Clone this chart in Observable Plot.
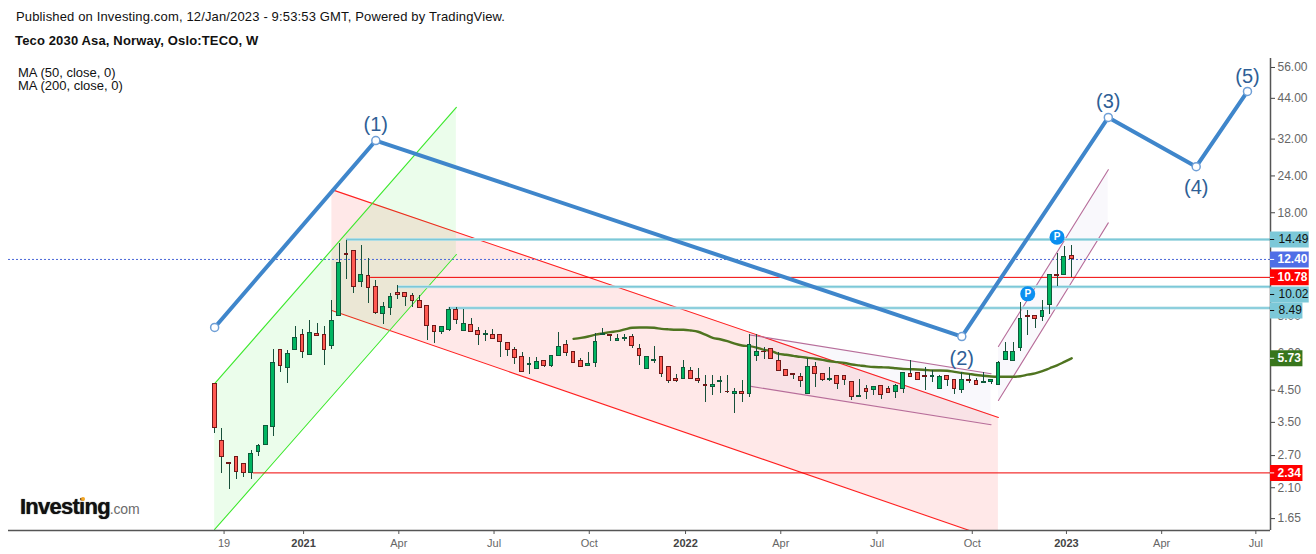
<!DOCTYPE html>
<html>
<head>
<meta charset="utf-8">
<script src="https://cdn.jsdelivr.net/npm/d3@7"></script>
<script src="https://cdn.jsdelivr.net/npm/@observablehq/plot@0.6"></script>
<style>
  html, body { margin: 0; padding: 0; background: #fff; }
  body { width: 1316px; height: 554px; position: relative; overflow: hidden; font-family: "Liberation Sans", Arial, sans-serif; color: #111; }
  #head { height: 58px; position: relative; font-size: 13px; letter-spacing: .15px; }
  #pub { position: absolute; left: 16px; top: 9px; white-space: nowrap; }
  #ttl { position: absolute; left: 15px; top: 33px; white-space: nowrap; font-weight: bold; }
  #ma { position: absolute; left: 18px; top: 66px; font-size: 13px; line-height: 13px; white-space: nowrap; z-index: 2; }
  #logo { position: absolute; left: 20px; top: 493px; white-space: nowrap; z-index: 2; font-weight: bold; color: #111; font-size: 22px; letter-spacing: -.75px; line-height: 28px; text-shadow: 0 0 1px #333; }
  #logo span { font-weight: normal; color: #6b6b6b; font-size: 14px; letter-spacing: -.2px; text-shadow: none; }
  #dot { position: absolute; left: 81px; top: 497px; width: 4px; height: 4px; border-radius: 50%; background: #f5a623; z-index: 3; }
  svg { display: block; }
</style>
</head>
<body>
<div id="head">
  <div id="pub">Published on Investing.com, 12/Jan/2023 - 9:53:53 GMT, Powered by TradingView.</div>
  <div id="ttl">Teco 2030 Asa, Norway, Oslo:TECO, W</div>
</div>
<div id="ma">MA (50, close, 0)<br>MA (200, close, 0)</div>
<div id="logo">Investing<span>.com</span></div>
<div id="dot"></div>
<div id="chart"></div>
<script>
const firstWeek = "2020-10-12";

const open = [4.69,3.01,2.52,2.64,2.51,2.34,2.76,2.92,3.36,6.12,5.32,6.12,6.89,5.89,6.94,6.89,6.30,7.98,12.96,13.27,10.38,10.90,10.02,8.11,8.50,9.55,9.55,9.34,8.98,8.62,7.39,7.05,7.16,8.36,7.10,7.44,
7.10,6.87,6.89,6.89,6.47,6.12,5.79,5.45,5.27,5.61,5.39,5.84,6.37,6.03,5.61,5.39,5.53,6.87,6.89,6.57,6.67,6.78,6.17,5.28,5.61,5.79,5.36,4.88,4.88,5.19,4.88,4.65,4.58,4.76,4.41,4.34,4.40,
4.34,5.84,6.04,6.17,5.62,5.24,5.08,4.96,4.34,5.36,5.08,4.84,5.00,5.00,4.77,4.24,4.51,4.48,4.62,4.51,4.41,4.51,5.08,5.12,5.00,4.96,4.51,5.00,4.84,4.48,4.84,4.81,4.73,4.77,4.66,
5.65,5.62,6.20,7.99,7.99,7.92,8.68,11.00,11.00,12.76];
const high = [4.69,3.31,2.52,2.64,2.51,2.79,2.92,3.38,6.12,6.12,6.07,7.33,7.17,7.68,7.50,7.33,8.98,14.01,14.38,13.27,13.80,12.46,10.49,8.83,9.48,10.09,9.55,9.48,9.34,8.62,7.39,7.33,8.50,8.50,8.36,7.80,
7.27,7.10,7.18,6.89,6.47,6.22,5.98,5.78,5.75,5.61,5.84,6.99,6.57,6.03,5.70,5.98,6.94,7.21,6.89,6.89,6.89,6.89,6.37,5.79,6.27,5.79,5.36,5.03,5.61,5.32,5.28,4.99,4.99,4.95,4.99,4.51,4.80,
6.89,6.89,6.22,6.17,5.98,5.24,5.08,5.08,5.72,5.53,5.08,5.33,5.00,5.00,4.77,4.84,4.62,4.58,4.62,4.58,4.66,5.12,5.62,5.12,5.33,5.20,5.00,5.00,4.84,5.12,5.04,4.88,5.12,4.84,5.57,
6.50,6.50,8.84,8.30,7.99,8.98,11.00,12.96,13.70,13.80];
const low = [3.18,2.32,2.05,2.23,2.25,2.23,2.67,2.89,3.12,5.14,4.71,6.12,5.74,5.84,6.83,5.43,6.16,7.98,10.63,9.50,9.99,8.81,8.05,7.48,8.03,9.05,8.60,8.50,8.50,6.60,6.45,6.92,7.05,7.48,7.10,7.05,
6.35,6.55,6.66,5.78,5.82,5.46,5.15,5.04,5.23,5.35,5.35,5.84,5.82,5.49,5.35,5.39,5.35,6.87,6.55,6.57,6.55,6.20,5.43,5.28,5.49,4.94,4.72,4.76,4.84,4.88,4.72,4.04,4.29,4.36,4.34,3.73,4.07,
4.21,5.57,5.66,5.66,5.20,4.96,4.84,4.55,4.34,4.55,4.77,4.77,4.48,4.62,4.11,4.24,4.14,4.27,4.14,4.37,4.18,4.34,4.96,4.81,4.44,4.73,4.51,4.58,4.31,4.34,4.69,4.66,4.73,4.66,4.66,
5.62,5.62,6.06,6.87,7.25,7.66,8.09,10.06,11.00,10.75];
const close = [3.32,2.65,2.50,2.36,2.34,2.72,2.89,3.38,5.53,5.40,5.93,6.73,6.01,6.99,6.83,6.12,7.68,12.07,12.83,10.02,11.00,9.94,8.18,8.56,9.26,9.41,9.26,8.98,8.50,7.39,7.05,7.33,8.36,7.74,7.50,7.05,
6.87,6.94,6.66,6.52,6.11,5.75,5.15,5.49,5.57,5.39,5.84,6.27,5.98,5.52,5.36,5.49,6.52,6.94,6.81,6.67,6.72,6.32,5.84,5.79,5.66,5.07,4.80,4.80,5.32,4.88,4.80,4.60,4.65,4.80,4.39,4.40,4.34,
6.37,6.03,6.01,5.71,5.20,5.00,5.04,4.81,5.36,5.08,4.84,4.88,4.69,4.84,4.24,4.27,4.41,4.58,4.31,4.37,4.62,5.12,4.96,4.84,4.96,5.00,4.96,4.84,4.51,4.84,4.81,4.66,4.77,4.84,5.53,
6.03,6.03,7.80,7.92,7.80,8.30,11.00,10.91,12.66,12.40];

const maStart = 49;
const ma = [6.67,6.72,6.79,6.89,6.96,7.03,7.08,7.18,7.27,7.29,7.29,7.27,7.21,7.18,7.16,7.16,7.12,7.05,6.89,6.72,6.65,6.55,6.42,6.33,6.30,
6.23,6.12,6.06,5.93,5.89,5.84,5.79,5.75,5.71,5.66,5.60,5.56,5.52,5.46,5.42,5.38,5.35,5.34,5.33,5.30,5.27,5.26,5.25,5.23,5.21,5.21,5.20,5.15,5.11,5.07,5.03,5.00,4.97,4.96,
4.96,4.96,4.98,5.04,5.09,5.18,5.30,5.42,5.57,5.73];

const waveDates = ["2020-10-12","2021-03-15","2022-09-26","2023-02-13","2023-05-08","2023-06-26"];
const wavePrices = [7.29,31.4,6.79,37.6,25.6,46.1];
const waveLabelDates = waveDates.slice(1);
const waveLabelPrices = [35.6,5.72,42.6,21.8,51.8];
const waveLabels = ["(1)","(2)","(3)","(4)","(5)"];

const greenDates = ["2020-10-12","2021-05-31"];
const greenUpper = [4.70,40.7];
const greenLower = [1.504,12.89];
const redDates = ["2021-02-01","2022-10-31"];
const redUpper = [21.4,3.61];
const redLower = [8.32,1.38];
const wedgeDates = ["2022-03-07","2022-10-24"];
const wedgeUpper = [6.88,5.08];
const wedgeLower = [4.61,3.41];
const riseDates = ["2022-10-31","2023-02-13"];
const riseUpper = [6.28,25.0];
const riseLower = [4.12,16.5];

const levelValues = [14.49,10.02,8.49];
const levelStarts = ["2021-02-15","2021-04-05","2021-05-24"];
const redLevelValues = [10.78,2.34];
const redLevelStarts = ["2021-03-10","2020-11-18"];
const lastPrice = 12.40;

const tagValues = [14.49,12.40,10.78,10.02,8.49,5.73,2.34];
const tagAt = [14.49,12.40,10.78,9.43,8.32,5.73,2.34];
const tagColors = ["#7cc8d8","#4f6ee6","#ff0000","#7cc8d8","#7cc8d8","#38761d","#ff0000"];
const tagInk = ["#111","#fff","#fff","#111","#111","#fff","#fff"];
const tagEnds = ["2023-08-24","2023-08-24","2023-08-24","2023-08-24","2023-08-18","2023-08-18","2023-08-18"];

const pinDates = ["2022-11-28","2022-12-26"];
const pinPrices = [9.48,14.76];

const yTicks = [56,44,32,24,18,8,6,4.5,3.5,2.7,2.1,1.65];
const xTickDates = ["2020-10-21","2021-01-05","2021-04-06","2021-07-06","2021-10-05","2022-01-05","2022-04-06","2022-07-07","2022-10-06","2023-01-04","2023-04-05","2023-07-04"];
const xTickLabels = ["19","2021","Apr","Jul","Oct","2022","Apr","Jul","Oct","2023","Apr","Jul"];

const xDomain = [new Date("2020-03-29"), new Date("2023-07-18")];
const tagTickEnd = new Date("2023-07-22");
const yDomain = [1.492, 59.6];

const D = s => new Date(s);
const base = D(firstWeek);
const bars = open.map((o, i) => {
  const date = d3.utcDay.offset(base, i * 7);
  return {date, left: d3.utcHour.offset(date, -43), right: d3.utcHour.offset(date, 43),
          open: o, high: high[i], low: low[i], close: close[i], up: close[i] >= o};
});
const band = (dates, upper, lower) => dates.map((d, i) => ({x: D(d), u: upper[i], l: lower[i]}));
const green = band(greenDates, greenUpper, greenLower);
const red = band(redDates, redUpper, redLower);
const wedge = band(wedgeDates, wedgeUpper, wedgeLower);
const rise = band(riseDates, riseUpper, riseLower);
const maLine = ma.map((v, i) => ({date: bars[i + maStart].date, v}));
const wave = waveDates.map((d, i) => ({x: D(d), y: wavePrices[i]}));
const waveText = waveLabels.map((t, i) => ({x: D(waveLabelDates[i]), y: waveLabelPrices[i], t}));
const levels = levelValues.map((v, i) => ({v, s: D(levelStarts[i])}));
const redLevels = redLevelValues.map((v, i) => ({v, s: D(redLevelStarts[i])}));
const tags = tagValues.map((v, i) => ({v, at: tagAt[i], c: tagColors[i], ink: tagInk[i], end: D(tagEnds[i])}));
const pins = pinDates.map((d, i) => ({x: D(d), y: pinPrices[i]}));
const xTicks = xTickDates.map(D);
const xLabel = d => xTickLabels[xTickDates.findIndex(s => +D(s) === +d)];
const isYear = d => /^20/.test(xLabel(d));

const bandMarks = (data, fill, opacity, line, lineWidth) => [
  Plot.areaY(data, {x: "x", y1: "l", y2: "u", fill, fillOpacity: opacity, clip: true}),
  Plot.line(data, {x: "x", y: "u", stroke: line, strokeWidth: lineWidth, clip: true}),
  Plot.line(data, {x: "x", y: "l", stroke: line, strokeWidth: lineWidth, clip: true})
];

const chart = Plot.plot({
  width: 1316,
  height: 496,
  marginTop: 0,
  marginBottom: 24,
  marginLeft: 8,
  marginRight: 46,
  style: {fontFamily: "'Liberation Sans', Arial, sans-serif", fontSize: "12px", background: "transparent", overflow: "visible"},
  x: {type: "utc", domain: xDomain},
  y: {type: "log", domain: yDomain},
  marks: [
    ...bandMarks(red, "#ff0000", 0.09, "#ff2020", 1.1),
    ...bandMarks(green, "#00e000", 0.08, "#3ce82c", 1.1),
    ...bandMarks(wedge, "#7a5fc0", 0.045, "#b76d9a", 1.1),
    ...bandMarks(rise, "#7a5fc0", 0.045, "#b76d9a", 1.1),
    Plot.ruleY(levels, {y: "v", x1: "s", x2: xDomain[1], stroke: "#bfe4ea", strokeWidth: 3}),
    Plot.ruleY(levels, {y: "v", x1: "s", x2: xDomain[1], stroke: "#7cc8d8", strokeWidth: 1.4}),
    Plot.ruleY(redLevels, {y: "v", x1: "s", x2: xDomain[1], stroke: "#f00000", strokeWidth: 1}),
    Plot.ruleY([lastPrice], {x1: xDomain[0], x2: xDomain[1], stroke: "#4a68d8", strokeWidth: 1, strokeDasharray: "2 2"}),
    Plot.line(maLine, {x: "date", y: "v", stroke: "#4f7420", strokeWidth: 2.4, curve: "monotone-x"}),
    Plot.ruleX(bars, {x: "date", y1: "low", y2: "high", stroke: "#17503a", strokeWidth: 1, shapeRendering: "crispEdges"}),
    Plot.rect(bars, {x1: "left", x2: "right", y1: "open", y2: "close",
      fill: d => d.up ? "#00b561" : "#ff5a52",
      stroke: d => d.up ? "#0e5a3a" : "#701818", strokeWidth: 1, shapeRendering: "crispEdges"}),
    Plot.line(wave, {x: "x", y: "y", stroke: "#3f86cb", strokeWidth: 4}),
    Plot.dot(wave, {x: "x", y: "y", r: 4, fill: "#fff", stroke: "#6f9fd6", strokeWidth: 1.5}),
    Plot.text(waveText, {x: "x", y: "y", text: "t", fontSize: 20, fill: "#2f5f96"}),
    Plot.dot(pins, {x: "x", y: "y", r: 7.5, fill: "#0a8ff0"}),
    Plot.text(pins, {x: "x", y: "y", text: () => "P", fontSize: 10, fontWeight: "bold", fill: "#fff"}),
    Plot.ruleY([yDomain[0]], {stroke: "#555", strokeWidth: 1.5}),
    Plot.ruleX([xDomain[1]], {stroke: "#555", strokeWidth: 1.5}),
    Plot.axisX(xTicks.filter(d => !isYear(d)), {anchor: "bottom", tickSize: 4, tickPadding: 5, tickFormat: xLabel, label: null, stroke: "#555", fill: "#666", fontSize: 11}),
    Plot.axisX(xTicks.filter(isYear), {anchor: "bottom", tickSize: 4, tickPadding: 5, tickFormat: xLabel, label: null, stroke: "#555", fill: "#444", fontSize: 11, fontWeight: "bold"}),
    Plot.axisY(yTicks, {anchor: "right", tickSize: 4, tickPadding: 3, tickFormat: d => d.toFixed(2), label: null, stroke: "#444", fill: "#666", fontSize: 12, dy: 1}),
    Plot.ruleY(tags, {y: "at", x1: xDomain[1], x2: "end", stroke: "c", strokeWidth: 16}),
    Plot.ruleY(tags, {y: "at", x1: xDomain[1], x2: tagTickEnd, stroke: "ink", strokeWidth: 1}),
    Plot.text(tags.filter(d => d.ink === "#111"), {x: xDomain[1], y: "at", text: d => d.v.toFixed(2), dx: 8, textAnchor: "start", fill: "ink", fontSize: 12}),
    Plot.text(tags.filter(d => d.ink === "#fff"), {x: xDomain[1], y: "at", text: d => d.v.toFixed(2), dx: 7, textAnchor: "start", fill: "ink", fontSize: 12, fontWeight: "bold"})
  ]
});
document.getElementById("chart").appendChild(chart);
</script>
</body>
</html>
